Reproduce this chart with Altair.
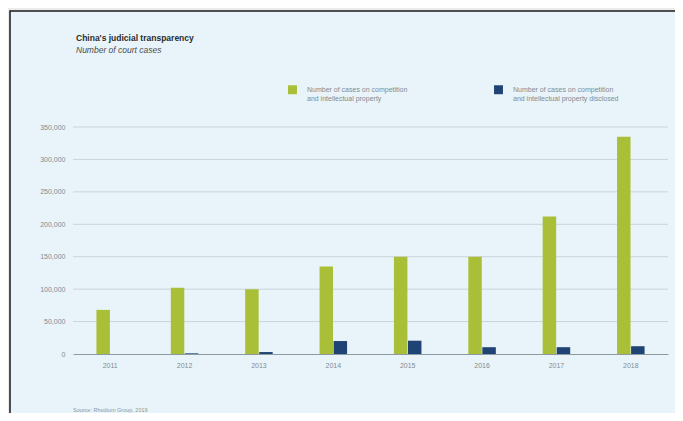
import altair as alt
import pandas as pd

years = ["2011", "2012", "2013", "2014", "2015", "2016", "2017", "2018"]
cases_total = [68000, 102000, 100000, 135000, 150000, 150000, 212000, 335000]
cases_disclosed = [0, 1000, 3000, 20000, 20500, 10500, 10500, 12000]
series_names = [
    "Number of cases on competition and intellectual property",
    "Number of cases on competition and intellectual property disclosed",
]
series_colors = ["#a9bf38", "#1e4374"]
y_ticks = [0, 50000, 100000, 150000, 200000, 250000, 300000, 350000]
title_text = "China's judicial transparency"
subtitle_text = "Number of court cases"
source_text = "Source: Rhodium Group, 2019"

rows = []
for yr, a, b in zip(years, cases_total, cases_disclosed):
    rows.append({"year": yr, "series": series_names[0], "value": a})
    rows.append({"year": yr, "series": series_names[1], "value": b})
df = pd.DataFrame(rows)
grid_df = pd.DataFrame({"value": y_ticks[1:]})

FONT = "Liberation Sans"
LABEL_GRAY = "#7f8b92"
y_scale = alt.Scale(domain=[0, 350000], nice=False)
y_axis = alt.Axis(
    title=None, values=y_ticks, labelExpr="format(datum.value, ',')",
    ticks=False, domain=False, grid=False, labelPadding=8,
    labelFont=FONT, labelFontSize=7, labelColor=LABEL_GRAY, zindex=1,
)

card = alt.Chart(pd.DataFrame({"k": [0]})).mark_rect(
    fill="#e9f4fa", stroke="#1a1a1a", strokeWidth=1.5
).encode(
    x=alt.value(-63), x2=alt.value(720), y=alt.value(-116), y2=alt.value(400)
)

grid = alt.Chart(grid_df).mark_rule(color="#c9d3d9", strokeWidth=1).encode(
    y=alt.Y("value:Q", scale=y_scale, axis=y_axis)
)

label_expr = (
    "datum.label == '" + series_names[0] + "' ? "
    "['Number of cases on competition', 'and intellectual property'] : "
    "['Number of cases on competition', 'and intellectual property disclosed']"
)

bars = alt.Chart(df).mark_bar().encode(
    x=alt.X(
        "year:N",
        sort=years,
        scale=alt.Scale(paddingInner=0.63, paddingOuter=0.315),
        axis=alt.Axis(
            title=None, labelAngle=0, ticks=False, domain=True,
            domainColor="#8d9aa2", domainWidth=1, labelPadding=7,
            labelFont=FONT, labelFontSize=7, labelColor=LABEL_GRAY, zindex=1,
        ),
    ),
    xOffset=alt.XOffset("series:N", sort=series_names, scale=alt.Scale(paddingInner=0.04)),
    y=alt.Y("value:Q", scale=y_scale, axis=y_axis),
    color=alt.Color(
        "series:N",
        sort=series_names,
        scale=alt.Scale(domain=series_names, range=series_colors),
        legend=alt.Legend(
            title=None, orient="none", legendX=215, legendY=-42,
            direction="horizontal", symbolType="square", symbolSize=80,
            symbolStrokeWidth=0, labelFont=FONT, labelFontSize=7,
            labelColor=LABEL_GRAY, labelExpr=label_expr, labelLimit=300,
            columnPadding=86, labelOffset=10, labelBaseline="middle",
        ),
    ),
)

title = alt.Chart(pd.DataFrame({"t": [title_text]})).mark_text(
    align="left", baseline="middle", font=FONT, fontSize=8.5, fontWeight="bold",
    color="#2b2b2b"
).encode(x=alt.value(3), y=alt.value(-89), text="t:N")

subtitle = alt.Chart(pd.DataFrame({"t": [subtitle_text]})).mark_text(
    align="left", baseline="middle", font=FONT, fontSize=8.5, fontStyle="italic",
    color="#4a4a4a"
).encode(x=alt.value(3), y=alt.value(-77), text="t:N")

source = alt.Chart(pd.DataFrame({"t": [source_text]})).mark_text(
    align="left", baseline="middle", font=FONT, fontSize=5.5, color="#8a979e"
).encode(x=alt.value(0), y=alt.value(283), text="t:N")

chart = alt.layer(card, grid, bars, title, subtitle, source).properties(
    width=595,
    height=227,
    background="#ebebeb",
    autosize=alt.AutoSizeParams(type="none"),
    padding={"left": 65, "top": 119, "right": 7, "bottom": 59},
).configure_view(stroke=None)

chart.save("out.html", embed_options={"renderer": "svg", "actions": False})
